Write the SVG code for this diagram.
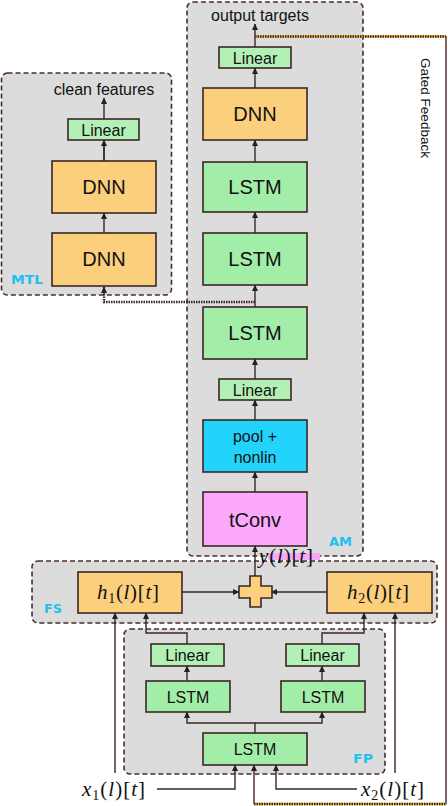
<svg xmlns="http://www.w3.org/2000/svg" width="448" height="806" viewBox="0 0 448 806">
<style>
.grp{fill:#dcdcdc;stroke:#4a2c2c;stroke-width:1.6;stroke-dasharray:5,3}
.box{stroke:#3a2626;stroke-width:1.6}
.dnn{fill:#fccf7c}
.lstm{fill:#a2eea8}
.lin{fill:#b2f0b6}
.pool{fill:#22d4fc}
.tconv{fill:#fca8fc}
.t{font-family:"Liberation Sans",Arial,sans-serif;fill:#111;text-anchor:middle}
.big{font-size:20px}
.mid{font-size:16px}
.lab{font-family:"DejaVu Sans","Liberation Sans",sans-serif;font-weight:bold;fill:#1ec0f0;font-size:12.5px}
.m{font-family:"Liberation Serif","Times New Roman",serif;font-size:21px;fill:#111}
.i{font-style:italic}
.c{fill:none;stroke:#3a2626;stroke-width:1.4}
.fb{fill:none;stroke:#6a3a3a;stroke-width:1.6}
.dot{fill:none;stroke:#3a2626;stroke-width:2.4;stroke-dasharray:1.5,1}
</style>
<defs>
<marker id="ah" markerUnits="userSpaceOnUse" markerWidth="7" markerHeight="7" refX="6" refY="3.5" orient="auto">
<path d="M0,0.5 L6.5,3.5 L0,6.5 Z" fill="#222"/>
</marker>
</defs>

<g id="MTL">
<rect class="grp" x="1.5" y="73" width="170" height="222" rx="6"/>
<text class="lab" x="11" y="284" textLength="32" lengthAdjust="spacingAndGlyphs">MTL</text>
</g>
<g id="AM">
<rect class="grp" x="187" y="2" width="176" height="554" rx="6"/>
<text class="lab" x="329" y="546" textLength="23" lengthAdjust="spacingAndGlyphs">AM</text>
</g>
<g id="FS">
<rect class="grp" x="32" y="561" width="405" height="62" rx="6"/>
<text class="lab" x="44" y="613" textLength="18" lengthAdjust="spacingAndGlyphs">FS</text>
</g>
<g id="FP">
<rect class="grp" x="124" y="629" width="261" height="145" rx="6"/>
<text class="lab" x="353" y="763" textLength="20" lengthAdjust="spacingAndGlyphs">FP</text>
</g>

<g id="connectors">
<path class="c" d="M104,161 V98" marker-end="url(#ah)"/>
<path class="c" d="M104,161 V140" marker-end="url(#ah)"/>
<path class="c" d="M104,233 V213" marker-end="url(#ah)"/>
<path class="dot" d="M255,302 H104 V287"/>
<path class="c" d="M104,294 V287" marker-end="url(#ah)"/>
<path class="c" d="M255,47 V24" marker-end="url(#ah)"/>
<path class="c" d="M255,88 V68" marker-end="url(#ah)"/>
<path class="c" d="M255,162 V140" marker-end="url(#ah)"/>
<path class="c" d="M255,233 V212" marker-end="url(#ah)"/>
<path class="c" d="M255,307 V285" marker-end="url(#ah)"/>
<path class="c" d="M255,379 V359" marker-end="url(#ah)"/>
<path class="c" d="M255,420 V400" marker-end="url(#ah)"/>
<path class="c" d="M255,492 V472" marker-end="url(#ah)"/>
<path class="c" d="M255,576 V546" marker-end="url(#ah)"/>
<path class="c" d="M182,592 H239" marker-end="url(#ah)"/>
<path class="c" d="M327,592 H271" marker-end="url(#ah)"/>
<path class="c" d="M255,733 V723 H187 V712" marker-end="url(#ah)"/>
<path class="c" d="M255,723 H322 V712" marker-end="url(#ah)"/>
<path class="c" d="M187,681 V666" marker-end="url(#ah)"/>
<path class="c" d="M322,681 V666" marker-end="url(#ah)"/>
<path class="c" d="M187,644 V633 H146 V613" marker-end="url(#ah)"/>
<path class="c" d="M322,644 V633 H364 V613" marker-end="url(#ah)"/>
<path class="c" d="M115,773 V613" marker-end="url(#ah)"/>
<path class="c" d="M395,773 V613" marker-end="url(#ah)"/>
<path class="c" d="M157,789 H235 V765" marker-end="url(#ah)"/>
<path class="c" d="M357,789 H276 V765" marker-end="url(#ah)"/>
<path d="M255,36.5 H446" fill="none" stroke="#f4c030" stroke-width="2.4"/>
<path class="dot" d="M255,36.5 H446"/>
<path class="fb" d="M446,36 V804"/>
<path d="M254,804 H446" fill="none" stroke="#f4c030" stroke-width="2.4"/>
<path class="dot" d="M254,804 H446"/>
<path class="fb" d="M254,804 V765" marker-end="url(#ah)"/>
<text class="t" x="0" y="0" font-size="13.5" transform="translate(421,108) rotate(90)">Gated Feedback</text>
</g>

<g id="clean_features"><text class="t mid" x="104" y="95">clean features</text></g>
<g id="mtl_linear"><rect class="box lin" x="68" y="119" width="71" height="21"/><text class="t mid" x="103.5" y="136">Linear</text></g>
<g id="mtl_dnn1"><rect class="box dnn" x="52" y="161" width="104" height="52"/><text class="t big" x="104" y="194">DNN</text></g>
<g id="mtl_dnn2"><rect class="box dnn" x="52" y="233" width="104" height="53"/><text class="t big" x="104" y="266">DNN</text></g>

<g id="output_targets"><text class="t mid" x="260" y="21">output targets</text></g>
<g id="am_linear1"><rect class="box lin" x="219" y="47" width="72" height="21"/><text class="t mid" x="255" y="63.5">Linear</text></g>
<g id="am_dnn"><rect class="box dnn" x="203" y="88" width="104" height="52"/><text class="t big" x="255" y="121">DNN</text></g>
<g id="am_lstm1"><rect class="box lstm" x="203" y="162" width="104" height="50"/><text class="t big" x="255" y="194">LSTM</text></g>
<g id="am_lstm2"><rect class="box lstm" x="203" y="233" width="104" height="52"/><text class="t big" x="255" y="266">LSTM</text></g>
<g id="am_lstm3"><rect class="box lstm" x="203" y="307" width="104" height="52"/><text class="t big" x="255" y="340">LSTM</text></g>
<g id="am_linear2"><rect class="box lin" x="219" y="379" width="72" height="21"/><text class="t mid" x="255" y="395.5">Linear</text></g>
<g id="pool"><rect class="box pool" x="203" y="420" width="104" height="52"/><text class="t mid" x="255" y="442">pool +</text><text class="t mid" x="255" y="463">nonlin</text></g>
<g id="tconv"><rect class="box tconv" x="203" y="492" width="104" height="54"/><text class="t big" x="255" y="527">tConv</text></g>

<g id="y_label"><rect x="268" y="553" width="52" height="7" fill="#f8a8f8"/><text class="m" x="259" y="563" textLength="54" lengthAdjust="spacing"><tspan class="i">y</tspan>(<tspan class="i">l</tspan>)[<tspan class="i">t</tspan>]</text></g>

<g id="h1"><rect class="box dnn" x="78" y="572" width="104" height="41"/><text class="m" x="97" y="599" textLength="62" lengthAdjust="spacing"><tspan class="i">h</tspan><tspan font-size="14" dy="4">1</tspan><tspan dy="-4">(</tspan><tspan class="i">l</tspan>)[<tspan class="i">t</tspan>]</text></g>
<g id="h2"><rect class="box dnn" x="327" y="572" width="105" height="41"/><text class="m" x="347" y="599" textLength="62" lengthAdjust="spacing"><tspan class="i">h</tspan><tspan font-size="14" dy="4">2</tspan><tspan dy="-4">(</tspan><tspan class="i">l</tspan>)[<tspan class="i">t</tspan>]</text></g>
<g id="sum"><polygon class="box dnn" points="250,576 261,576 261,586 272,586 272,598 261,598 261,607 250,607 250,598 239,598 239,586 250,586"/></g>

<g id="fp_linear_l"><rect class="box lin" x="151" y="644" width="73" height="22"/><text class="t mid" x="187.5" y="661">Linear</text></g>
<g id="fp_linear_r"><rect class="box lin" x="286" y="644" width="73" height="22"/><text class="t mid" x="322.5" y="661">Linear</text></g>
<g id="fp_lstm_l"><rect class="box lstm" x="146" y="681" width="84" height="31"/><text class="t mid" x="188" y="702.5" font-size="17">LSTM</text></g>
<g id="fp_lstm_r"><rect class="box lstm" x="281" y="681" width="84" height="31"/><text class="t mid" x="323" y="702.5" font-size="17">LSTM</text></g>
<g id="fp_lstm_b"><rect class="box lstm" x="203" y="733" width="104" height="32"/><text class="t mid" x="255" y="755" font-size="17">LSTM</text></g>

<g id="x1"><text class="m" x="82" y="796" textLength="63" lengthAdjust="spacing"><tspan class="i">x</tspan><tspan font-size="14" dy="4">1</tspan><tspan dy="-4">(</tspan><tspan class="i">l</tspan>)[<tspan class="i">t</tspan>]</text></g>
<g id="x2"><text class="m" x="361" y="796" textLength="63" lengthAdjust="spacing"><tspan class="i">x</tspan><tspan font-size="14" dy="4">2</tspan><tspan dy="-4">(</tspan><tspan class="i">l</tspan>)[<tspan class="i">t</tspan>]</text></g>
</svg>
